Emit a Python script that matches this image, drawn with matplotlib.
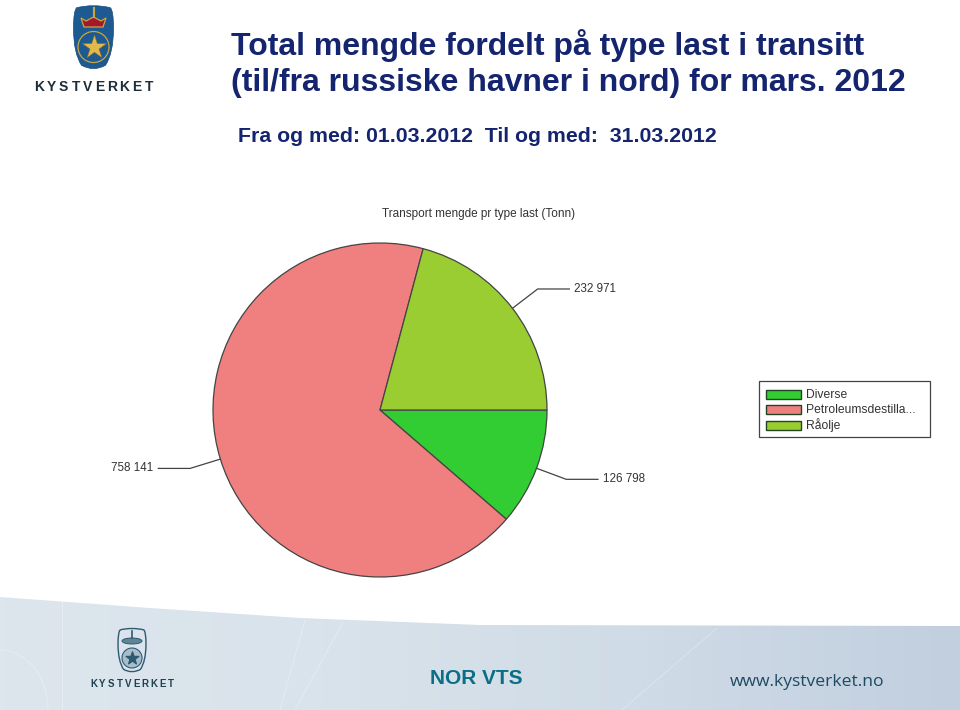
import numpy as np
import matplotlib
matplotlib.use('Agg')
import matplotlib.pyplot as plt
from matplotlib.patches import Polygon, PathPatch, Ellipse, Circle, Rectangle
from matplotlib.path import Path

plt.rcParams['font.family'] = ['Liberation Sans', 'DejaVu Sans']

W, H = 960, 710

categories = ['Diverse', 'Petroleumsdestilla...', 'Råolje']
tonnes = [126798, 758141, 232971]
value_labels = ['126 798', '758 141', '232 971']
pie_colors = ['#32cd32', '#f08080', '#9acd32']

title_lines = ['Total mengde fordelt på type last i transitt',
               '(til/fra russiske havner i nord) for mars. 2012']
date_line = 'Fra og med: 01.03.2012  Til og med:  31.03.2012'
chart_title = 'Transport mengde pr type last (Tonn)'

NAVY = '#14246e'
GREY = '#333333'

fig = plt.figure(figsize=(W / 100, H / 100), dpi=100, facecolor='white')

# whole page in pixel coordinates, for the slide furniture
bg = fig.add_axes([0, 0, 1, 1])
bg.set_xlim(0, W)
bg.set_ylim(H, 0)
bg.axis('off')

# footer band
grad = np.linspace(0, 1, 256).reshape(1, -1)
cmap = matplotlib.colors.LinearSegmentedColormap.from_list(
    'band', ['#dde6ed', '#d9e3eb', '#cfdbe6', '#c2cfdf'])
im = bg.imshow(grad, extent=(0, W, H, 596), cmap=cmap, aspect='auto', zorder=0)
band = Polygon([(0, 597), (150, 608), (300, 618), (480, 625), (960, 626), (960, H), (0, H)],
               closed=True, transform=bg.transData, fc='none', ec='none')
bg.add_patch(band)
im.set_clip_path(band)
bg.set_xlim(0, W)
bg.set_ylim(H, 0)

# faint light streaks in the band
for xs, ys in [((62, 62), (600, 710)),
               ((305, 280), (620, 710)),
               ((343, 295), (622, 710)),
               ((717, 622), (628, 710))]:
    bg.plot(xs, ys, color='white', lw=0.7, alpha=0.3, zorder=1)
t = np.linspace(0, np.pi / 2, 40)
bg.plot(48 * np.sin(t), 650 + 60 * (1 - np.cos(t)), color='white', lw=0.7, alpha=0.3, zorder=1)


def shield(cx, top, w, h, **kw):
    verts = [(cx - w * .42, top + h * .04), (cx, top - h * .02), (cx + w * .42, top + h * .04),
             (cx + w * .5, top + h * .08), (cx + w * .5, top + h * .35), (cx + w * .5, top + h * .72),
             (cx + w * .3, top + h * .9), (cx, top + h), (cx - w * .3, top + h * .9),
             (cx - w * .5, top + h * .72), (cx - w * .5, top + h * .35), (cx - w * .5, top + h * .08),
             (cx - w * .42, top + h * .04)]
    codes = [Path.MOVETO] + [Path.CURVE3] * 12
    bg.add_patch(PathPatch(Path(verts, codes), **kw))


def spaced(word, x0, x1, y, **kw):
    # letters evenly spread, the logo wordmarks are widely tracked
    for ch, x in zip(word, np.linspace(x0, x1, len(word))):
        bg.text(x, y, ch, ha='center', va='center', zorder=5, **kw)


# top logo
shield(93.5, 5, 40, 67, fc='#1d5a92', ec='#164a7c', lw=0.5, zorder=3)
bg.add_patch(Polygon([(81, 18), (86, 21), (93.5, 17), (101, 21), (106, 18), (103, 27), (84, 27)],
                     closed=True, fc='#a5182c', ec='#c9a53f', lw=0.9, zorder=4))
bg.plot([93.5, 93.5], [8, 17], color='#c9a53f', lw=1.5, zorder=4)
bg.add_patch(Circle((93.5, 47), 15.5, fc='none', ec='#c9a53f', lw=0.9, zorder=4))
bg.scatter([93.5], [47], marker='*', s=330, c='#e2b94f', edgecolors='#8a6d20', linewidths=0.4, zorder=5)
spaced('KYSTVERKET', 39, 149, 87, fontsize=10, fontweight='bold', color='#1d2d3a')

# footer logo
shield(132, 628, 28, 46, fc='none', ec='#2d5a70', lw=1, zorder=3)
bg.add_patch(Ellipse((132, 641), 20, 6, fc='#5f8496', ec='#2d5a70', lw=0.7, zorder=4))
bg.plot([132, 132], [631, 638], color='#2d5a70', lw=1.2, zorder=4)
bg.add_patch(Circle((132, 658), 10, fc='#a8bdc9', ec='#2d5a70', lw=0.8, zorder=4))
bg.scatter([132], [658], marker='*', s=90, c='#2d5a70', zorder=5)
spaced('KYSTVERKET', 94, 171, 684, fontsize=7, fontweight='bold', color='#1d4252')

bg.text(476.5, 678.5, 'NOR VTS', ha='center', va='center', fontsize=15, fontweight='bold',
        color='#0a6f86', zorder=5)
bg.text(807, 682, 'www.kystverket.no', ha='center', va='center', fontsize=12.6,
        color='#1d4a63', fontfamily='Open Sans', zorder=5)

# slide heading
bg.text(231, 45, title_lines[0], ha='left', va='center', fontsize=23, fontweight='bold', color=NAVY)
bg.text(231, 83, title_lines[1], ha='left', va='center', fontsize=23, fontweight='bold', color=NAVY)
bg.text(238, 136, date_line, ha='left', va='center', fontsize=15.35, fontweight='bold', color=NAVY)
bg.text(479, 214, chart_title, ha='center', va='center', fontsize=8.5, color=GREY)

# pie
cx, cy, r = 380, 410, 167
ax = fig.add_axes([(cx - r) / W, 1 - (cy + r) / H, 2 * r / W, 2 * r / H])
wedges, _ = ax.pie(tonnes, colors=pie_colors, startangle=0, counterclock=False, radius=1,
                   wedgeprops=dict(edgecolor='#444444', linewidth=0.9))
ax.set_xlim(-1, 1)
ax.set_ylim(-1, 1)
for w in wedges:
    w.set_clip_on(False)

# leader lines, from the middle of each slice
for w, lab in zip(wedges, value_labels):
    mid = np.deg2rad((w.theta1 + w.theta2) / 2)
    x0, y0 = np.cos(mid), np.sin(mid)
    x1, y1 = 1.19 * x0, 1.19 * y0
    side = 1 if x0 > 0 else -1
    x2 = x1 + side * 0.19
    ax.plot([x0, x1, x2], [y0, y1, y1], color='#444444', lw=0.9, clip_on=False)
    ax.text(x2 + side * 0.03, y1, lab, ha='left' if side > 0 else 'right', va='center',
            fontsize=8.4, color=GREY, clip_on=False)

# legend box, laid out by hand to get its padding right
bg.add_patch(Rectangle((759, 381), 171, 56, fc='white', ec='#444444', lw=0.9, zorder=3))
for i, (cat, col) in enumerate(zip(categories, pie_colors)):
    row = 394.5 + i * 15.3
    bg.add_patch(Rectangle((766, row - 4.5), 35, 9, fc=col, ec='#224422', lw=1, zorder=4))
    bg.text(806, row, cat, ha='left', va='center', fontsize=8.7, color=GREY, zorder=4)

fig.savefig('out.png', dpi=100)
